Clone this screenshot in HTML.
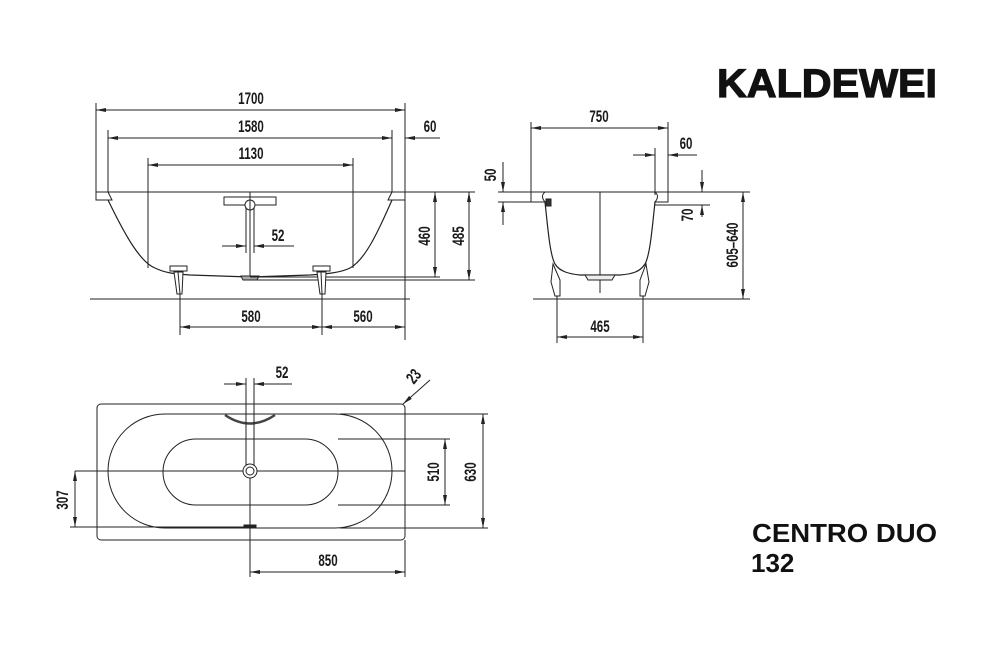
<!DOCTYPE html>
<html><head><meta charset="utf-8"><style>
html,body{margin:0;padding:0;background:#fff;}
svg{display:block}
.d{font-family:"Liberation Sans",sans-serif;font-weight:bold;font-size:17px;fill:#1a1a1a}
</style></head><body>
<svg width="994" height="667" viewBox="0 0 994 667" xmlns="http://www.w3.org/2000/svg">
<defs>
<marker id="a" viewBox="0 0 10 6" refX="10" refY="3" markerWidth="10" markerHeight="6" orient="auto-start-reverse" markerUnits="userSpaceOnUse"><path d="M0,1 L10,3 L0,5 z" fill="#222"/></marker>
</defs>
<g stroke="#222" stroke-width="1" fill="none">
<!-- FRONT VIEW -->
<line x1="96" y1="103" x2="96" y2="195"/>
<line x1="405" y1="103" x2="405" y2="340"/>
<line x1="108" y1="130" x2="108" y2="195"/>
<line x1="392" y1="130" x2="392" y2="195"/>
<line x1="148" y1="158" x2="148" y2="268"/>
<line x1="353" y1="158" x2="353" y2="268"/>
<line x1="96" y1="110" x2="405" y2="110" marker-start="url(#a)" marker-end="url(#a)"/>
<line x1="108" y1="138" x2="392" y2="138" marker-start="url(#a)" marker-end="url(#a)"/>
<line x1="148" y1="165" x2="353" y2="165" marker-start="url(#a)" marker-end="url(#a)"/>
<line x1="405" y1="138" x2="440" y2="138" marker-start="url(#a)"/>
<line x1="96" y1="192" x2="475" y2="192"/>
<path d="M96,192 H108 L112,200 H96 Z" fill="#fff"/>
<path d="M405,192 H392 L388,200 H405 Z" fill="#fff"/>
<path d="M108,200 C125,235 140,262 155,268 C165,273 175,274 190,275 L250,277 L310,275 C325,274 340,273 350,268 C365,260 378,232 392,200" stroke-width="1.2"/>
<rect x="224" y="197" width="52" height="8" fill="#fff"/>
<circle cx="250" cy="205" r="5" fill="#fff"/>
<line x1="246" y1="208" x2="246" y2="253"/>
<line x1="254" y1="208" x2="254" y2="253"/>
<line x1="250" y1="192" x2="250" y2="277"/>
<line x1="222" y1="246" x2="246" y2="246" marker-end="url(#a)"/>
<line x1="294" y1="246" x2="254" y2="246" marker-end="url(#a)"/>
<path d="M241,276 L259,276 L257,280 L243,280 Z" fill="#aaa"/>
<line x1="250" y1="277" x2="440" y2="277"/>
<line x1="250" y1="280" x2="475" y2="280"/>
<line x1="435" y1="192" x2="435" y2="277" marker-start="url(#a)" marker-end="url(#a)"/>
<line x1="469" y1="192" x2="469" y2="280" marker-start="url(#a)" marker-end="url(#a)"/>
<rect x="170" y="266" width="17" height="5" fill="#fff"/>
<path d="M174,272 L183,272 L182,294 L177,294 Z" fill="#fff"/>
<line x1="178" y1="272" x2="180" y2="294"/>
<rect x="313" y="266" width="17" height="5" fill="#fff"/>
<path d="M317,272 L326,272 L325,294 L320,294 Z" fill="#fff"/>
<line x1="321" y1="272" x2="322" y2="294"/>
<line x1="90" y1="299" x2="410" y2="299"/>
<line x1="180" y1="294" x2="180" y2="335"/>
<line x1="322" y1="294" x2="322" y2="335"/>
<line x1="180" y1="327" x2="322" y2="327" marker-start="url(#a)" marker-end="url(#a)"/>
<line x1="322" y1="327" x2="405" y2="327" marker-start="url(#a)" marker-end="url(#a)"/>
<!-- SIDE VIEW -->
<line x1="531" y1="122" x2="531" y2="195"/>
<line x1="668" y1="122" x2="668" y2="195"/>
<line x1="531" y1="128" x2="668" y2="128" marker-start="url(#a)" marker-end="url(#a)"/>
<line x1="655" y1="148" x2="655" y2="195"/>
<line x1="633" y1="155" x2="655" y2="155" marker-end="url(#a)"/>
<line x1="697" y1="155" x2="668" y2="155" marker-end="url(#a)"/>
<line x1="498" y1="192" x2="750" y2="192"/>
<line x1="498" y1="202" x2="545" y2="202"/>
<line x1="503" y1="162" x2="503" y2="192" marker-end="url(#a)"/>
<line x1="503" y1="225" x2="503" y2="202" marker-end="url(#a)"/>
<path d="M531,192 H545 Q540,196 545,202 H531 Z" fill="#fff"/>
<path d="M668,192 H655 Q660,196 655,202 H668 Z" fill="#fff"/>
<rect x="546" y="199" width="5" height="7" fill="#333"/>
<path d="M545,202 C548,230 550,255 555,264 C560,272 570,274 580,275 L620,275 C632,274 640,272 645,264 C650,255 652,230 655,202" stroke-width="1.2"/>
<line x1="600" y1="192" x2="600" y2="293"/>
<path d="M585,275 L615,275 L612,280 L588,280 Z" fill="#eee"/>
<path d="M553,264 L560,280 L560,296 L555,296 L551,282 Z" fill="#fff"/>
<path d="M646,264 L640,280 L640,296 L645,296 L649,282 Z" fill="#fff"/>
<line x1="533" y1="299" x2="750" y2="299"/>
<line x1="655" y1="205" x2="710" y2="205"/>
<line x1="702" y1="170" x2="702" y2="192" marker-end="url(#a)"/>
<line x1="702" y1="217" x2="702" y2="205" marker-end="url(#a)"/>
<line x1="743" y1="192" x2="743" y2="299" marker-start="url(#a)" marker-end="url(#a)"/>
<line x1="557" y1="296" x2="557" y2="343"/>
<line x1="643" y1="296" x2="643" y2="343"/>
<line x1="557" y1="337" x2="643" y2="337" marker-start="url(#a)" marker-end="url(#a)"/>
<!-- PLAN -->
<rect x="97" y="404" width="308" height="136" rx="4" fill="#fff"/>
<rect x="108" y="414" width="284" height="114" rx="57" fill="#fff"/>
<rect x="163" y="439" width="175" height="66" rx="33" fill="#fff"/>
<line x1="75" y1="471" x2="405" y2="471"/>
<path d="M225,415 Q250,432 275,415" stroke-width="2.5" stroke="#444"/>
<line x1="246" y1="378" x2="246" y2="465"/>
<line x1="254" y1="378" x2="254" y2="465"/>
<line x1="224" y1="384" x2="246" y2="384" marker-end="url(#a)"/>
<line x1="292" y1="384" x2="254" y2="384" marker-end="url(#a)"/>
<circle cx="250" cy="471" r="7" fill="#fff"/>
<circle cx="250" cy="471" r="4"/>
<line x1="250" y1="478" x2="250" y2="577"/>
<rect x="244" y="525" width="12" height="3" fill="#222"/>
<line x1="430" y1="380" x2="403" y2="404" marker-end="url(#a)"/>
<line x1="338" y1="439" x2="450" y2="439"/>
<line x1="338" y1="505" x2="450" y2="505"/>
<line x1="445" y1="439" x2="445" y2="505" marker-start="url(#a)" marker-end="url(#a)"/>
<line x1="340" y1="414" x2="488" y2="414"/>
<line x1="340" y1="528" x2="488" y2="528"/>
<line x1="483" y1="414" x2="483" y2="528" marker-start="url(#a)" marker-end="url(#a)"/>
<line x1="70" y1="527" x2="250" y2="527"/>
<line x1="75" y1="471" x2="75" y2="527" marker-start="url(#a)" marker-end="url(#a)"/>
<line x1="405" y1="540" x2="405" y2="577"/>
<line x1="250" y1="572" x2="405" y2="572" marker-start="url(#a)" marker-end="url(#a)"/>
</g>
<g class="d" text-anchor="middle">
<text transform="translate(251,104) scale(0.68,1)">1700</text>
<text transform="translate(251,132) scale(0.68,1)">1580</text>
<text transform="translate(251,159) scale(0.68,1)">1130</text>
<text transform="translate(430,132) scale(0.68,1)">60</text>
<text transform="translate(278,241) scale(0.68,1)">52</text>
<text transform="translate(251,322) scale(0.68,1)">580</text>
<text transform="translate(363,322) scale(0.68,1)">560</text>
<text transform="translate(430,236) rotate(-90) scale(0.68,1)">460</text>
<text transform="translate(464,236) rotate(-90) scale(0.68,1)">485</text>
<text transform="translate(599,122) scale(0.68,1)">750</text>
<text transform="translate(686,149) scale(0.68,1)">60</text>
<text transform="translate(496,175) rotate(-90) scale(0.68,1)">50</text>
<text transform="translate(693,215) rotate(-90) scale(0.68,1)">70</text>
<text transform="translate(738,245) rotate(-90) scale(0.68,1)">605–640</text>
<text transform="translate(600,332) scale(0.68,1)">465</text>
<text transform="translate(282,378) scale(0.68,1)">52</text>
<text transform="translate(418,380) rotate(-50) scale(0.68,1)">23</text>
<text transform="translate(439,472) rotate(-90) scale(0.68,1)">510</text>
<text transform="translate(476,472) rotate(-90) scale(0.68,1)">630</text>
<text transform="translate(68,500) rotate(-90) scale(0.68,1)">307</text>
<text transform="translate(328,566) scale(0.68,1)">850</text>
</g>
<text x="717" y="97" font-family="Liberation Sans,sans-serif" font-weight="900" font-size="40" textLength="220" lengthAdjust="spacingAndGlyphs" fill="#111" stroke="#111" stroke-width="1.2">KALDEWEI</text>
<text x="752" y="542" font-family="Liberation Sans,sans-serif" font-weight="bold" font-size="26" textLength="185" lengthAdjust="spacingAndGlyphs" fill="#111">CENTRO DUO</text>
<text x="751" y="572" font-family="Liberation Sans,sans-serif" font-weight="bold" font-size="26" fill="#111">132</text>
</svg>
</body></html>
